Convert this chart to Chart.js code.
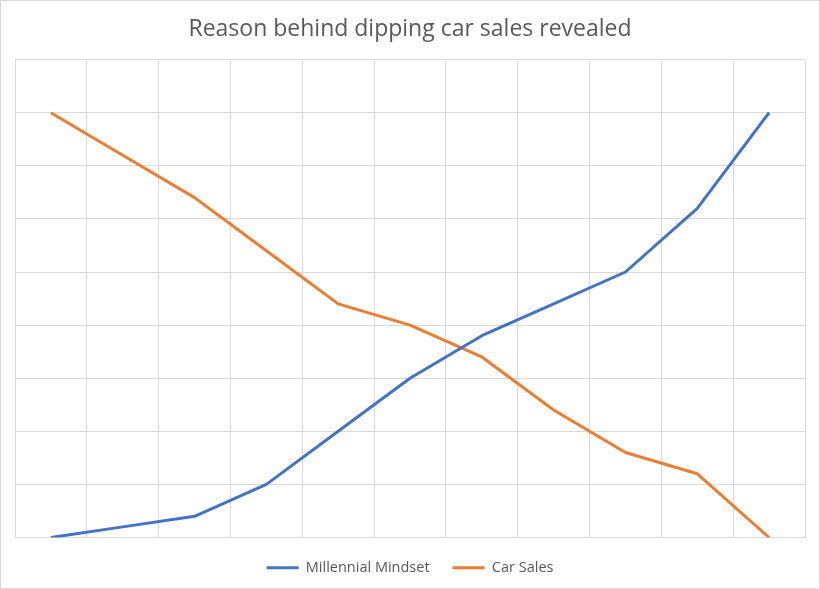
<!DOCTYPE html>
<html>
<head>
<meta charset="utf-8">
<script src="https://cdn.jsdelivr.net/npm/chart.js@4"></script>
<style>
  html, body { margin: 0; padding: 0; background: #fff; }
  #wrap { width: 818px; height: 587px; border: 1px solid #d9d9d9; }
</style>
</head>
<body>
<div id="wrap"><canvas id="c" width="818" height="587"></canvas></div>
<script>
// categories have no visible labels in the original
const periods = ['1', '2', '3', '4', '5', '6', '7', '8', '9', '10', '11'];
const millennialMindset = [0, 1, 2, 5, 10, 15, 19, 22, 25, 31, 40];
const carSales = [40, 36, 32, 27, 22, 20, 17, 12, 8, 6, 0];

const BLUE = '#4472C4';
const ORANGE = '#ED7D31';
const GRID = '#d9d9d9';
const TEXT = '#595959';

new Chart(document.getElementById('c').getContext('2d'), {
    type: 'line',
    data: {
        labels: periods,
        datasets: [
            { label: 'Millennial Mindset', data: millennialMindset, borderColor: BLUE, backgroundColor: BLUE,
              borderWidth: 3, pointRadius: 0, tension: 0, borderJoinStyle: 'round' },
            { label: 'Car Sales', data: carSales, borderColor: ORANGE, backgroundColor: ORANGE,
              borderWidth: 3, pointRadius: 0, tension: 0, borderJoinStyle: 'round' }
        ]
    },
    options: {
        responsive: false, animation: false,
        layout: { padding: { left: 14, right: 14, top: 0, bottom: 3 } },
        plugins: {
            title: {
                display: true, text: 'Reason behind dipping car sales revealed', color: TEXT,
                font: { family: '"Open Sans", sans-serif', size: 23, weight: 'normal' },
                padding: { top: 15, bottom: 16 }
            },
            legend: {
                position: 'bottom',
                labels: {
                    color: TEXT, usePointStyle: true, pointStyle: 'line', pointStyleWidth: 32,
                    font: { family: '"Open Sans", sans-serif', size: 14.5 }, padding: 23
                }
            },
            tooltip: { enabled: false }
        },
        scales: {
            x: {
                offset: true,
                grid: { offset: true, color: GRID, drawTicks: false },
                border: { display: false },
                ticks: { display: false }
            },
            y: {
                min: 0, max: 45,
                grid: { color: GRID, drawTicks: false },
                border: { display: false },
                ticks: { display: false, stepSize: 5 }
            }
        }
    }
});
</script>
</body>
</html>
